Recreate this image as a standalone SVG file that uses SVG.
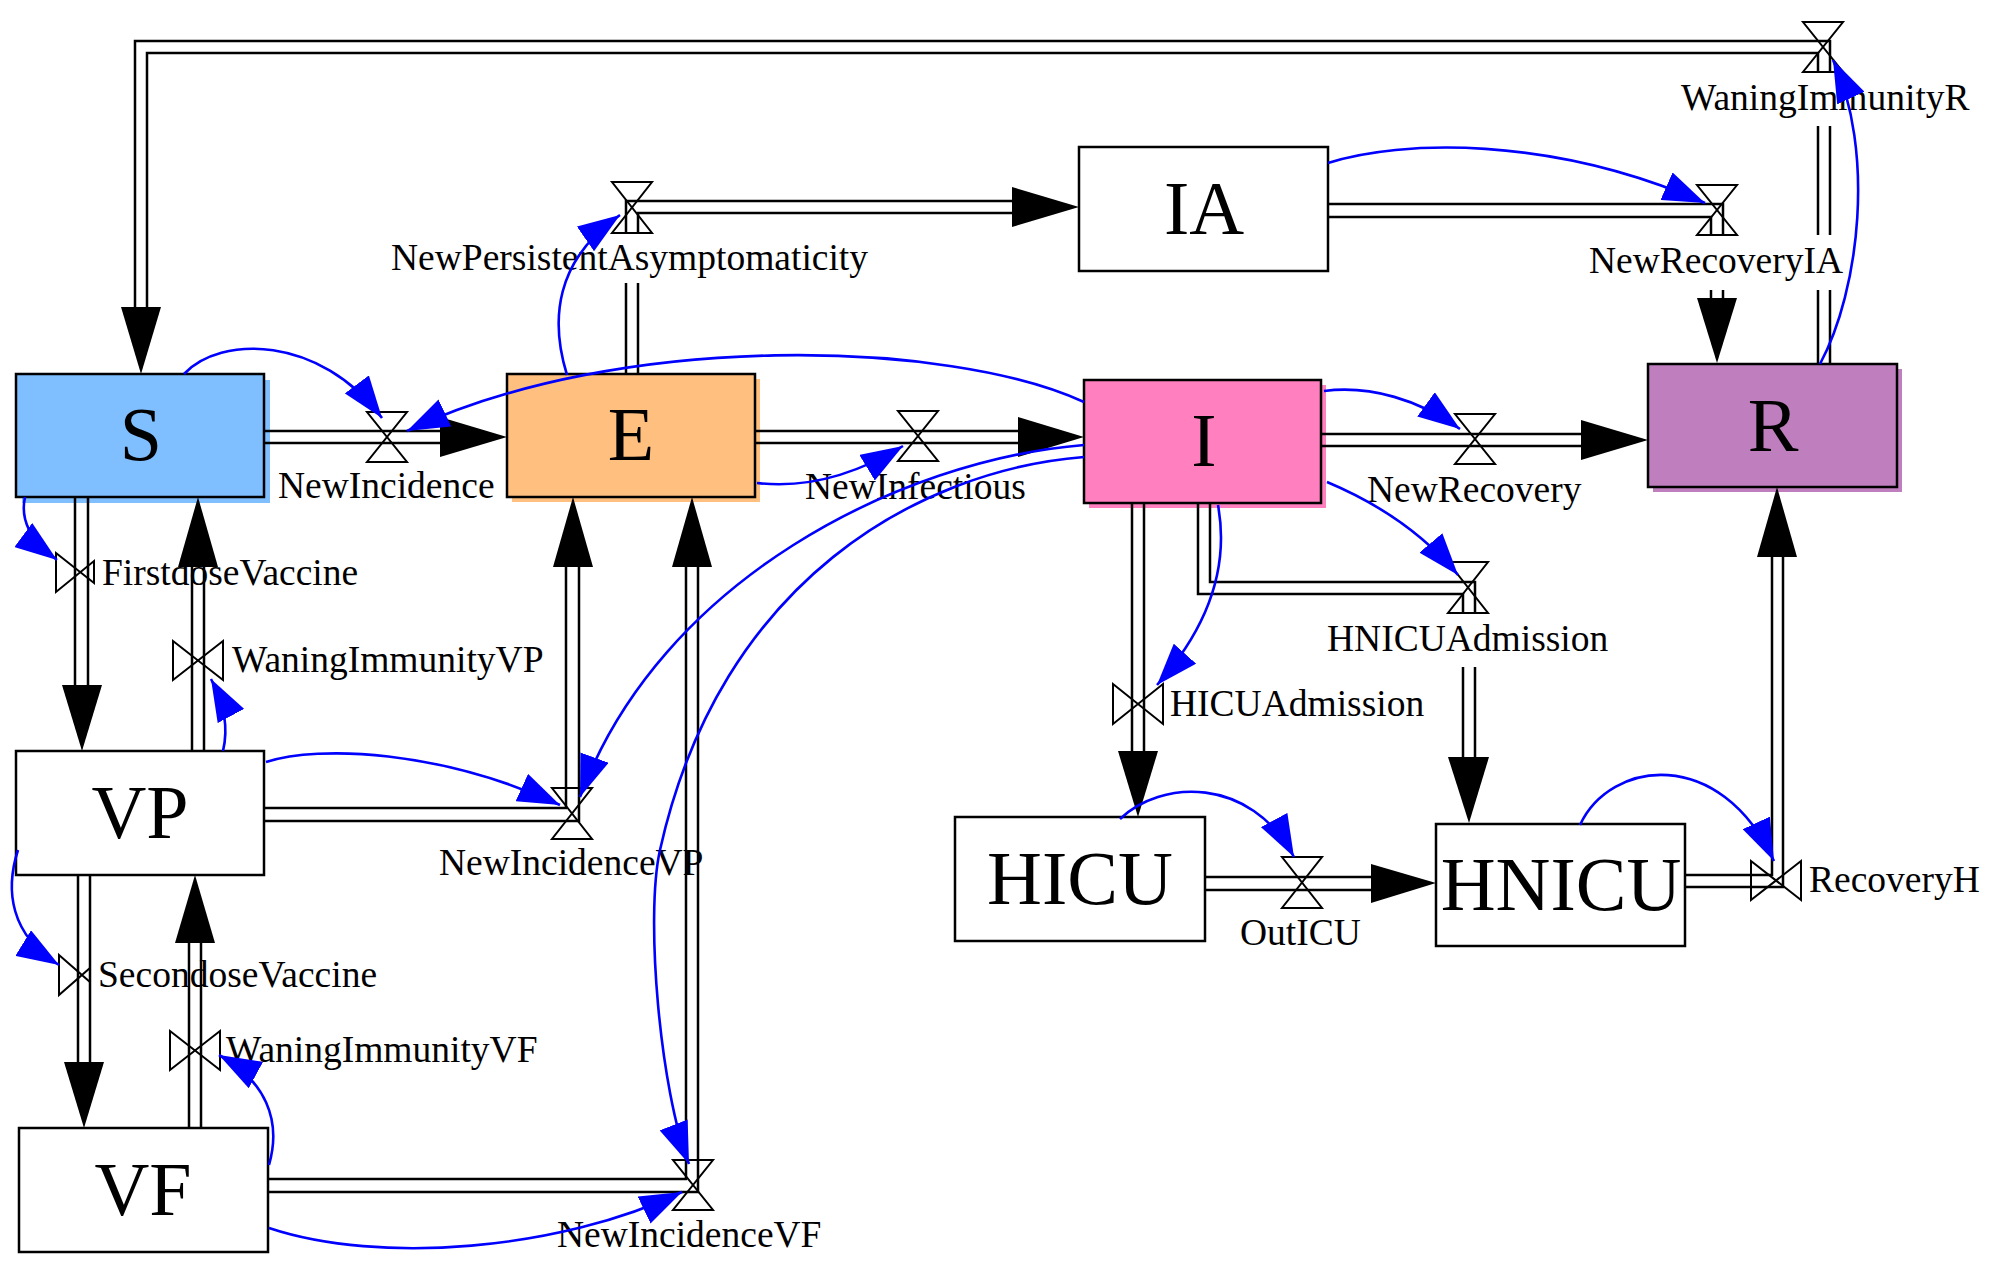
<svg xmlns="http://www.w3.org/2000/svg" width="1996" height="1282" viewBox="0 0 1996 1282">
<style>
.box{stroke:#000;stroke-width:2.5}
.sh{stroke:none}
.fl{stroke:#000;stroke-width:2.5;fill:none}
.ah{fill:#000;stroke:none}
.valve{fill:none;stroke:#000;stroke-width:2}
.lk{stroke:#0000ff;stroke-width:2.6;fill:none;marker-end:url(#bh)}
.lbl{font-family:"Liberation Serif","Times New Roman",serif;font-size:37.5px;fill:#000}
.big{font-family:"Liberation Serif","Times New Roman",serif;font-size:76px;fill:#000;text-anchor:middle}
</style>
<defs>
<marker id="bh" markerUnits="userSpaceOnUse" markerWidth="42" markerHeight="30" viewBox="0 0 42 30" refX="42" refY="15" orient="auto"><path d="M0,0 L42,15 L0,30 z" fill="#0000ff"/></marker>
</defs>
<rect width="1996" height="1282" fill="#fff"/>

<g id="S"><rect class="sh" x="22" y="380" width="248" height="123" fill="#7fbfff"/><rect class="box" x="16" y="374" width="248" height="123" fill="#7fbfff"/><text class="big" x="141" y="460">S</text></g>
<g id="E"><rect class="sh" x="512" y="379" width="248" height="123" fill="#ffbf7f"/><rect class="box" x="507" y="374" width="248" height="123" fill="#ffbf7f"/><text class="big" x="631" y="460">E</text></g>
<g id="IA"><rect class="box" x="1079" y="147" width="249" height="124" fill="#fff"/><text class="big" x="1204" y="234">IA</text></g>
<g id="I"><rect class="sh" x="1089" y="385" width="237" height="123" fill="#ff7fbf"/><rect class="box" x="1084" y="380" width="237" height="123" fill="#ff7fbf"/><text class="big" x="1204" y="466">I</text></g>
<g id="R"><rect class="sh" x="1653" y="369" width="249" height="123" fill="#bf7fbf"/><rect class="box" x="1648" y="364" width="249" height="123" fill="#bf7fbf"/><text class="big" x="1773" y="451">R</text></g>
<g id="VP"><rect class="box" x="16" y="751" width="248" height="124" fill="#fff"/><text class="big" x="140" y="838">VP</text></g>
<g id="VF"><rect class="box" x="19" y="1128" width="249" height="124" fill="#fff"/><text class="big" x="143" y="1215">VF</text></g>
<g id="HICU"><rect class="box" x="955" y="817" width="250" height="124" fill="#fff"/><text class="big" x="1080" y="904">HICU</text></g>
<g id="HNICU"><rect class="box" x="1436" y="824" width="249" height="122" fill="#fff"/><text class="big" x="1561" y="910">HNICU</text></g>

<g id="NewIncidence"><polygon class="valve" points="367,412 407,412 367,462 407,462"/><text class="lbl" x="278" y="498">NewIncidence</text></g>
<g id="NewInfectious"><polygon class="valve" points="898,411 938,411 898,461 938,461"/><text class="lbl" x="805" y="499">NewInfectious</text></g>
<g id="NewRecovery"><polygon class="valve" points="1455,414 1495,414 1455,464 1495,464"/><text class="lbl" x="1367" y="502">NewRecovery</text></g>
<g id="NewPersistentAsymptomaticity"><polygon class="valve" points="612,182 652,182 612,233 652,233"/><text class="lbl" x="391" y="270">NewPersistentAsymptomaticity</text></g>
<g id="NewRecoveryIA"><polygon class="valve" points="1697,185 1737,185 1697,235 1737,235"/><text class="lbl" x="1589" y="273">NewRecoveryIA</text></g>
<g id="WaningImmunityR"><polygon class="valve" points="1803,22 1843,22 1803,72 1843,72"/><text class="lbl" x="1681" y="110">WaningImmunityR</text></g>
<g id="NewIncidenceVP"><polygon class="valve" points="552,788 592,788 552,839 592,839"/><text class="lbl" x="439" y="875">NewIncidenceVP</text></g>
<g id="NewIncidenceVF"><polygon class="valve" points="673,1160 713,1160 673,1210 713,1210"/><text class="lbl" x="557" y="1247">NewIncidenceVF</text></g>
<g id="HNICUAdmission"><polygon class="valve" points="1448,562 1488,562 1448,613 1488,613"/><text class="lbl" x="1327" y="651">HNICUAdmission</text></g>
<g id="OutICU"><polygon class="valve" points="1282,857 1322,857 1282,908 1322,908"/><text class="lbl" x="1240" y="945">OutICU</text></g>
<g id="FirstdoseVaccine"><polygon class="valve" points="56,553 94,583 94,561 56,592"/><text class="lbl" x="102" y="585">FirstdoseVaccine</text></g>
<g id="WaningImmunityVP"><polygon class="valve" points="173,641 223,680 223,641 173,680"/><text class="lbl" x="232" y="672">WaningImmunityVP</text></g>
<g id="SecondoseVaccine"><polygon class="valve" points="59,955 90,982 90,968 59,995"/><text class="lbl" x="98" y="987">SecondoseVaccine</text></g>
<g id="WaningImmunityVF"><polygon class="valve" points="170,1031 220,1070 220,1031 170,1070"/><text class="lbl" x="226" y="1062">WaningImmunityVF</text></g>
<g id="HICUAdmission"><polygon class="valve" points="1113,684 1163,724 1163,684 1113,724"/><text class="lbl" x="1170" y="716">HICUAdmission</text></g>
<g id="RecoveryH"><polygon class="valve" points="1751,861 1801,900 1801,861 1751,900"/><text class="lbl" x="1809" y="892">RecoveryH</text></g>

<g id="connectors">
<path class="fl" d="M264,431 H440 M264,443 H440"/><polygon class="ah" points="440,417 507,437 440,457"/>
<path class="fl" d="M755,431 H1018 M755,443 H1018"/><polygon class="ah" points="1018,417 1084,437 1018,457"/>
<path class="fl" d="M1321,434 H1581 M1321,446 H1581"/><polygon class="ah" points="1581,420 1648,440 1581,460"/>
<path class="fl" d="M626,374 V283 M638,374 V283 M626,233 V201 H1012 M638,233 V213 H1012"/><polygon class="ah" points="1012,187 1079,207 1012,227"/>
<path class="fl" d="M1328,204 H1723 V235 M1328,217 H1711 V235 M1711,290 V298 M1723,290 V298"/><polygon class="ah" points="1697,298 1717,363 1737,298"/>
<path class="fl" d="M1818,364 V290 M1830,364 V290 M1818,235 V126 M1830,235 V126 M1818,72 V53 H147 V307 M1830,72 V41 H135 V307"/><polygon class="ah" points="121,307 141,374 161,307"/>
<path class="fl" d="M75,497 V685 M88,497 V685"/><polygon class="ah" points="62,685 82,751 102,685"/>
<path class="fl" d="M192,751 V567 M204,751 V567"/><polygon class="ah" points="178,567 198,497 218,567"/>
<path class="fl" d="M78,875 V1062 M90,875 V1062"/><polygon class="ah" points="64,1062 84,1128 104,1062"/>
<path class="fl" d="M189,1128 V943 M201,1128 V943"/><polygon class="ah" points="175,943 195,875 215,943"/>
<path class="fl" d="M264,808 H566 V567 M264,821 H579 V567"/><polygon class="ah" points="553,567 573,497 593,567"/>
<path class="fl" d="M268,1179 H686 V567 M268,1192 H698 V567"/><polygon class="ah" points="672,567 692,497 712,567"/>
<path class="fl" d="M1132,503 V751 M1144,503 V751"/><polygon class="ah" points="1118,751 1138,817 1158,751"/>
<path class="fl" d="M1198,503 V594 H1463 V613 M1210,503 V582 H1475 V613 M1463,667 V757 M1475,667 V757"/><polygon class="ah" points="1448,757 1469,823 1489,757"/>
<path class="fl" d="M1205,877 H1371 M1205,890 H1371"/><polygon class="ah" points="1371,864 1436,883 1371,903"/>
<path class="fl" d="M1685,875 H1772 V557 M1685,887 H1783 V557"/><polygon class="ah" points="1757,557 1777,487 1797,557"/>

<path class="lk" d="M184,374 C220,335 320,335 382,418"/>
<path class="lk" d="M1084,402 C950,340 620,330 407,431"/>
<path class="lk" d="M567,375 C550,320 555,260 620,215"/>
<path class="lk" d="M757,483 C800,488 850,478 903,446"/>
<path class="lk" d="M1084,445 C900,460 660,580 580,797"/>
<path class="lk" d="M1084,457 C920,470 720,580 660,850 C645,917 660,1090 689,1164"/>
<path class="lk" d="M1328,163 C1400,140 1550,135 1705,203"/>
<path class="lk" d="M1820,364 C1860,290 1875,150 1833,60"/>
<path class="lk" d="M1324,391 C1370,385 1420,400 1460,429"/>
<path class="lk" d="M1327,482 C1370,500 1420,530 1458,575"/>
<path class="lk" d="M1218,505 C1228,560 1215,620 1157,685"/>
<path class="lk" d="M1120,819 C1160,780 1250,775 1294,857"/>
<path class="lk" d="M1580,825 C1610,760 1720,745 1774,861"/>
<path class="lk" d="M25,497 C20,520 30,540 57,560"/>
<path class="lk" d="M223,751 C228,730 225,705 211,679"/>
<path class="lk" d="M266,762 C320,745 440,750 560,805"/>
<path class="lk" d="M18,850 C5,890 10,935 59,965"/>
<path class="lk" d="M269,1165 C282,1120 265,1080 219,1055"/>
<path class="lk" d="M269,1228 C380,1265 560,1250 682,1192"/>
</g>
</svg>
